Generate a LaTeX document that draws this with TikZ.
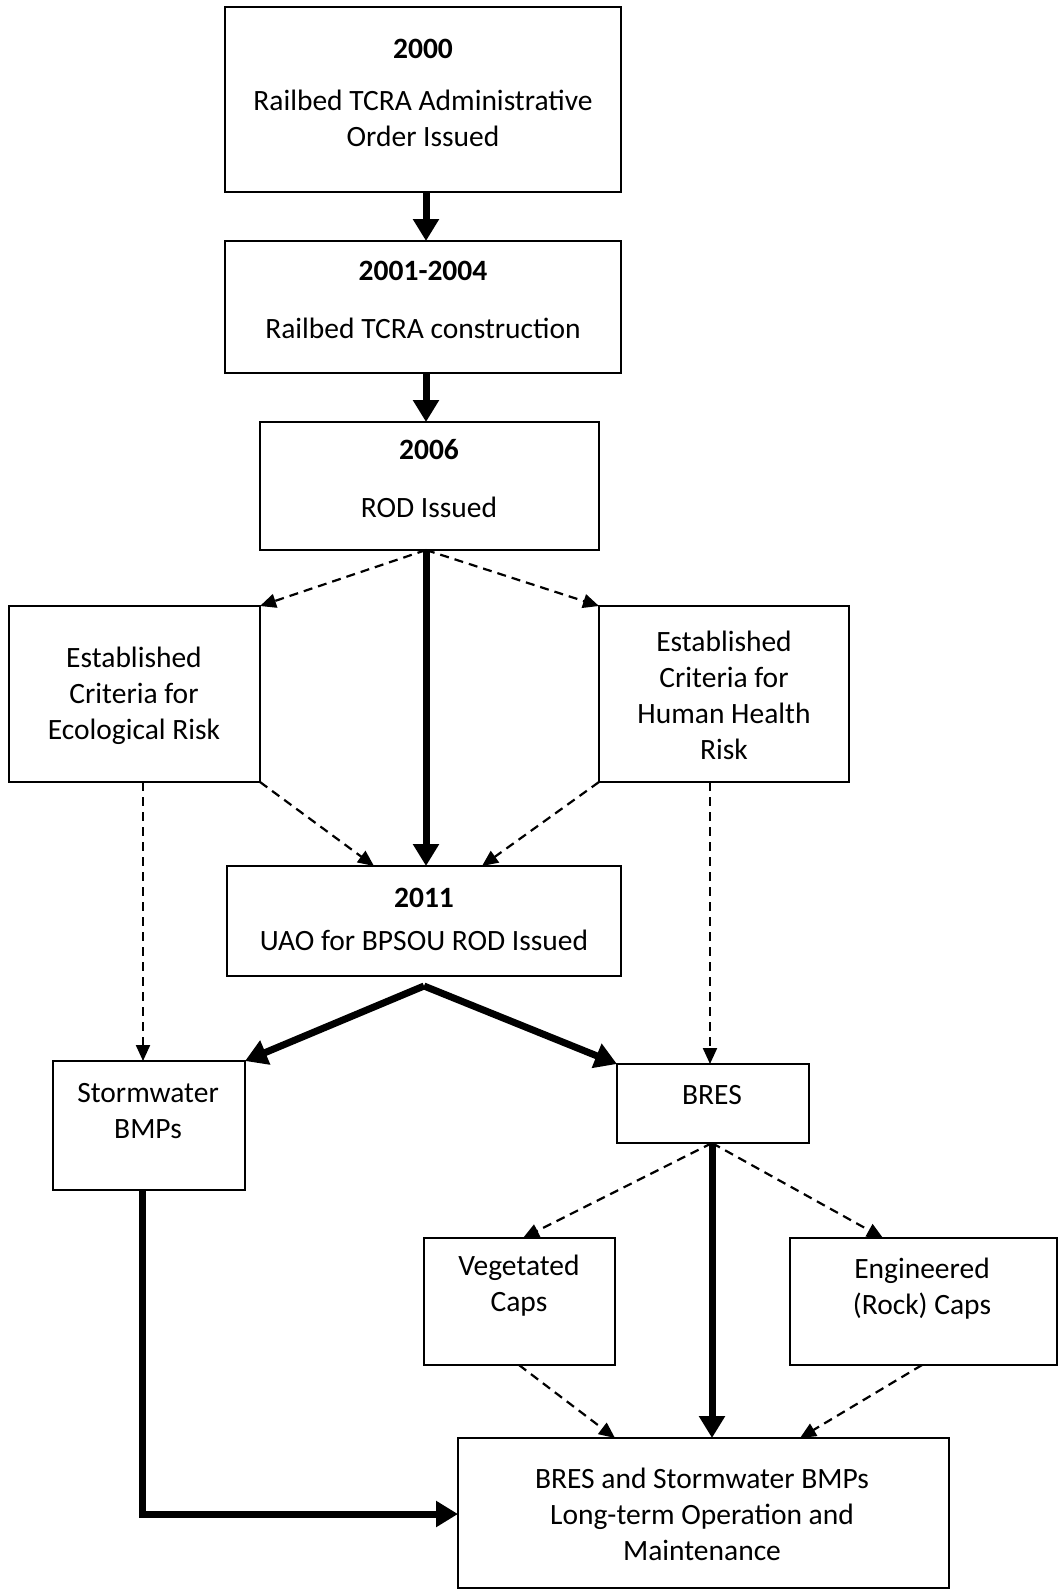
\documentclass[tikz,border=0pt]{standalone}
\usepackage{fontspec}
\setmainfont{Carlito}
\usetikzlibrary{arrows.meta}
\begin{document}
\begin{tikzpicture}[x=1pt,y=-1pt,
  box/.style={draw,line width=2pt,inner sep=0pt},
  txt/.style={align=center,font=\fontsize{29.5}{36}\selectfont,inner sep=0pt},
  yr/.style={font=\fontsize{29.5}{36}\selectfont\bfseries,inner sep=0pt},
  thick arrow/.style={line width=7pt,-{Triangle[width=25pt,length=22pt]}},
  dash arrow/.style={line width=2.2pt,dash pattern=on 9pt off 6pt,-{Triangle[width=14pt,length=16pt]}}]
\useasboundingbox (0,0) rectangle (1062,1590);
% boxes
\draw[box] (225,7) rectangle (621,192);
\coordinate (b1s) at (426,192);
\coordinate (b2n) at (426,241);
\draw[box] (225,241) rectangle (621,373);
\coordinate (b2s) at (426,373);
\coordinate (b3n) at (426,422);
\draw[box] (260,422) rectangle (599,550);
\coordinate (b3s) at (426,550);
\draw[box] (9,606) rectangle (260,782);
\coordinate (ecoNE) at (260,606);
\coordinate (ecoSE) at (260,782);
\coordinate (ecoS) at (143,782);
\draw[box] (599,606) rectangle (849,782);
\coordinate (hhNW) at (599,606);
\coordinate (hhSW) at (599,782);
\coordinate (hhS) at (710,782);
\draw[box] (227,866) rectangle (621,976);
\coordinate (uaoN1) at (374,866);
\coordinate (uaoN2) at (426,866);
\coordinate (uaoN3) at (482,866);
\coordinate (uaoS) at (424,986);
\draw[box] (53,1061) rectangle (245,1190);
\coordinate (stNE) at (245,1061);
\coordinate (stN) at (143,1061);
\coordinate (stS) at (142,1190);
\draw[box] (617,1064) rectangle (809,1143);
\coordinate (brNW) at (617,1064);
\coordinate (brN) at (710,1064);
\coordinate (brS) at (712,1143);
\draw[box] (424,1238) rectangle (615,1365);
\coordinate (vgN) at (523,1238);
\coordinate (vgS) at (519,1365);
\draw[box] (790,1238) rectangle (1057,1365);
\coordinate (egN) at (883,1238);
\coordinate (egS) at (922,1365);
\draw[box] (458,1438) rectangle (949,1588);
\coordinate (fnN1) at (615,1438);
\coordinate (fnN2) at (712,1438);
\coordinate (fnN3) at (800,1438);
\coordinate (fnW) at (458,1514);
\coordinate (corner) at (142,1514);
% texts
\node[yr] (t1) at (423,49) {2000};
\node[txt] (t1b) at (423,118) {Railbed TCRA Administrative\\Order Issued};
\node[yr] (t2) at (423,271) {2001-2004};
\node[txt] (t2b) at (423,328) {Railbed TCRA construction};
\node[yr] (t3) at (429,450) {2006};
\node[txt] (t3b) at (429,507) {ROD Issued};
\node[txt] (t4) at (134,696) {Established\\Criteria for\\Ecological Risk};
\node[txt] (t5) at (724,695) {Established\\Criteria for\\Human Health\\Risk};
\node[yr] (t6) at (424,898) {2011};
\node[txt] (t6b) at (424,940) {UAO for BPSOU ROD Issued};
\node[txt] (t7) at (148,1111) {Stormwater\\BMPs};
\node[txt] (t8) at (712,1095) {BRES};
\node[txt] (t9) at (519,1286) {Vegetated\\Caps};
\node[txt] (t10) at (922,1289) {Engineered\\(Rock) Caps};
\node[txt] (t11) at (702,1514) {BRES and Stormwater BMPs\\Long-term Operation and\\Maintenance};
% connectors
\draw[thick arrow] (b1s) -- (b2n);
\draw[thick arrow] (b2s) -- (b3n);
\draw[thick arrow] (b3s) -- (uaoN2);
\draw[dash arrow] (b3s) -- (ecoNE);
\draw[dash arrow] (b3s) -- (hhNW);
\draw[dash arrow] (ecoSE) -- (uaoN1);
\draw[dash arrow] (hhSW) -- (uaoN3);
\draw[dash arrow] (ecoS) -- (stN);
\draw[dash arrow] (hhS) -- (brN);
\draw[thick arrow] (uaoS) -- (stNE);
\draw[thick arrow] (uaoS) -- (brNW);
\draw[dash arrow] (brS) -- (vgN);
\draw[dash arrow] (brS) -- (egN);
\draw[thick arrow] (brS) -- (fnN2);
\draw[dash arrow] (vgS) -- (fnN1);
\draw[dash arrow] (egS) -- (fnN3);
\draw[thick arrow,line join=miter] (stS) -- (corner) -- (fnW);
\end{tikzpicture}
\end{document}
